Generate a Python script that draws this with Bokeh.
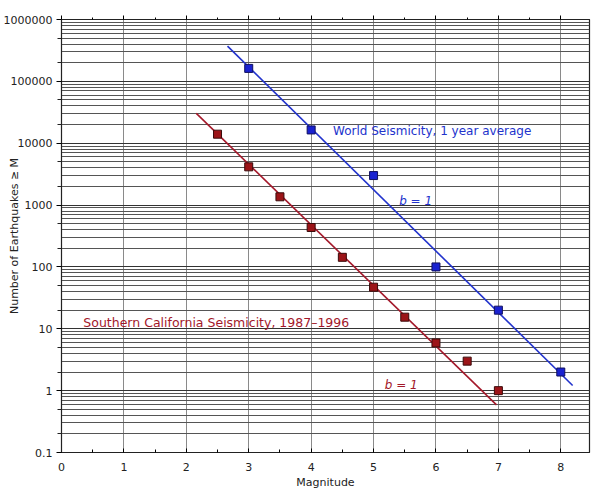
import math
from bokeh.plotting import figure
from bokeh.models import LinearAxis, Label, FixedTicker, LogTicker, Range1d
from bokeh.embed import file_html
from bokeh.resources import INLINE

# World seismicity (1 year average)
world_m = [3, 4, 5, 6, 7, 8]
world_n = [162000, 16400, 3000, 100, 20, 2]
world_fit_m = [2.66, 8.19]
world_fit_n = [372000, 1.21]

# Southern California seismicity 1987-1996
socal_m = [2.5, 3, 3.5, 4, 4.5, 5, 5.5, 6, 6.5, 7]
socal_n = [14000, 4150, 1360, 434, 143, 47, 15.4, 5.9, 3.0, 1.0]
socal_fit_m = [2.16, 6.97]
socal_fit_n = [30300, 0.59]

x_ticks = [0, 1, 2, 3, 4, 5, 6, 7, 8]
y_ticks = [0.1, 1, 10, 100, 1000, 10000, 100000, 1000000]
y_minor_ticks = [0.2, 0.5, 2, 5, 20, 50, 200, 500, 2000, 5000, 20000, 50000, 200000, 500000]

FONT = "DejaVu Sans"
BLUE = "#2233cc"
RED = "#a3182a"

p = figure(width=591, height=491, output_backend="svg", toolbar_location=None,
           y_axis_type="log", x_range=Range1d(0, 8.46), y_range=Range1d(0.1, 1e6),
           min_border_left=61, min_border_right=2, min_border_top=19, min_border_bottom=37)
p.background_fill_color = "white"
p.border_fill_color = "white"
p.outline_line_color = "#222222"
p.outline_line_width = 1.2

# grids
p.xgrid.ticker = FixedTicker(ticks=x_ticks)
p.xgrid.grid_line_color = "#8a8a8a"
p.xgrid.grid_line_width = 1
p.ygrid.ticker = LogTicker(num_minor_ticks=10)
p.ygrid.grid_line_color = "#333333"
p.ygrid.grid_line_width = 1
p.ygrid.minor_grid_line_color = "#555555"
p.ygrid.minor_grid_line_width = 1

# x axis
xa = p.xaxis[0]
xa.ticker = FixedTicker(ticks=x_ticks, minor_ticks=[0.5 + i for i in range(9)])
xa.axis_label = "Magnitude"
xa.axis_label_text_font = FONT
xa.axis_label_text_font_size = "11px"
xa.axis_label_text_font_style = "normal"
xa.axis_label_text_color = "#222222"
xa.axis_label_standoff = 2
xa.major_label_text_font = FONT
xa.major_label_text_font_size = "11px"
xa.major_label_text_color = "#222222"
xa.major_label_standoff = 10
xa.major_tick_in = 4
xa.major_tick_out = 0
xa.minor_tick_in = 3
xa.minor_tick_out = 0
xa.axis_line_color = "#222222"

# y axis
ya = p.yaxis[0]
ya.ticker = FixedTicker(ticks=y_ticks, minor_ticks=y_minor_ticks)
ya.major_label_overrides = {0.1: "0.1", 1: "1", 10: "10", 100: "100", 1000: "1000",
                            10000: "10000", 100000: "100000", 1000000: "1000000"}
ya.major_label_text_font = FONT
ya.major_label_text_font_size = "11px"
ya.major_label_text_color = "#222222"
ya.major_label_standoff = 4
ya.major_tick_in = 0
ya.major_tick_out = 5
ya.minor_tick_in = 0
ya.minor_tick_out = 4
ya.minor_tick_line_color = "#222222"
ya.axis_line_color = "#222222"
ya.axis_label = "Number of Earthquakes ≥ M"
ya.axis_label_text_font = FONT
ya.axis_label_text_font_size = "11px"
ya.axis_label_text_font_style = "normal"
ya.axis_label_text_color = "#222222"
ya.axis_label_standoff = -20

# top axis with ticks only
top = LinearAxis(ticker=FixedTicker(ticks=x_ticks, minor_ticks=[0.5 + i for i in range(9)]),
                 major_label_text_color=None, major_tick_in=0, major_tick_out=4,
                 minor_tick_in=0, minor_tick_out=2, axis_line_color="#222222",
                 major_label_text_font_size="1px")
p.add_layout(top, "above")

# lines
p.line(world_fit_m, world_fit_n, line_color=BLUE, line_width=1.6)
p.line(socal_fit_m, socal_fit_n, line_color=RED, line_width=1.6)

# markers
p.scatter(world_m, world_n, marker="square", size=8, fill_color="#1a22d0",
          line_color="#101060", line_width=1)
p.scatter(socal_m, socal_n, marker="square", size=8, fill_color="#9c1418",
          line_color="#3a0a0a", line_width=1)

# annotations
p.add_layout(Label(x=4.35, y=16000, text="World Seismicity, 1 year average",
                   text_font=FONT, text_font_size="12px", text_color=BLUE,
                   text_baseline="middle", text_align="left"))
p.add_layout(Label(x=5.41, y=1170, text="b = 1", text_font=FONT, text_font_size="12px",
                   text_color=BLUE, text_baseline="middle", text_align="left",
                   text_font_style="italic"))
p.add_layout(Label(x=0.35, y=12.5, text="Southern California Seismicity, 1987–1996",
                   text_font=FONT, text_font_size="12.5px", text_color=RED,
                   text_baseline="middle", text_align="left"))
p.add_layout(Label(x=5.18, y=1.25, text="b = 1", text_font=FONT, text_font_size="12px",
                   text_color=RED, text_baseline="middle", text_align="left",
                   text_font_style="italic"))

open("out.html", "w").write(file_html(p, INLINE))
